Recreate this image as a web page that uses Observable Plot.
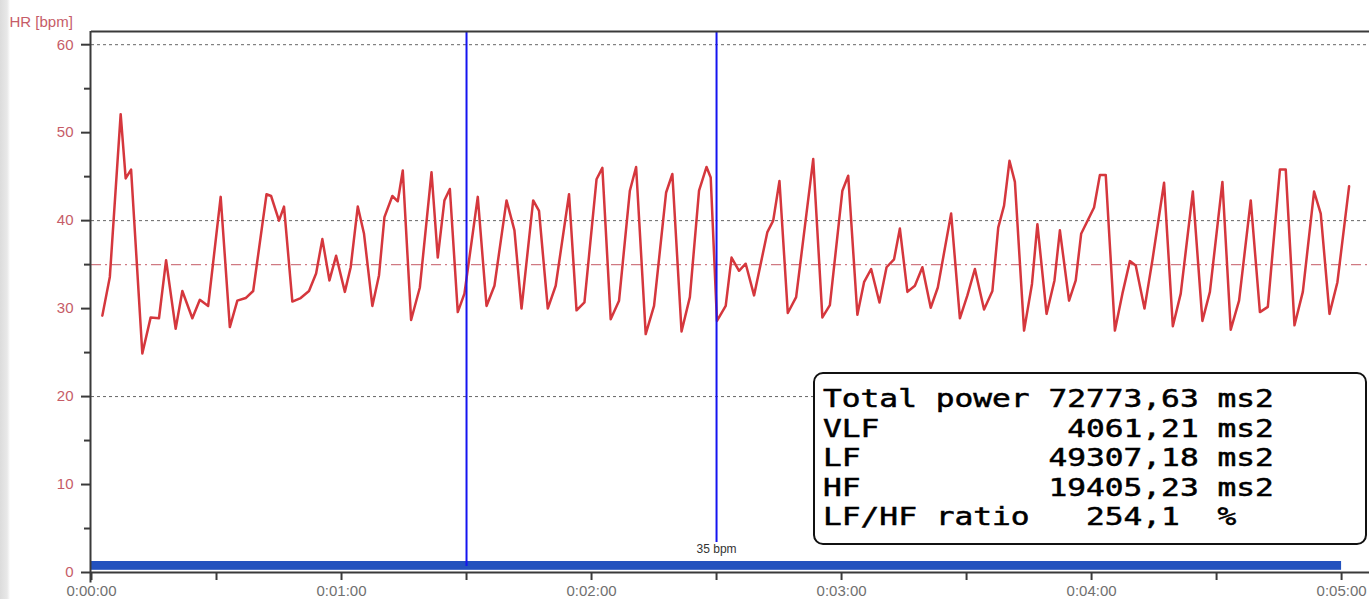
<!DOCTYPE html>
<html>
<head>
<meta charset="utf-8">
<script src="https://cdn.jsdelivr.net/npm/d3@7"></script>
<script src="https://cdn.jsdelivr.net/npm/@observablehq/plot@0.6"></script>
<style>
  html, body { margin: 0; padding: 0; background: #fff; }
  #wrap { position: relative; width: 1369px; height: 599px; overflow: hidden; }
  #edge { position: absolute; left: 0; top: 0; width: 10px; height: 599px;
          background: linear-gradient(to right, #dcdcdc 0, #e8e8e8 7px, #f6f6f6 9px, #fff 10px); }
  #chart { position: absolute; left: 0; top: 0; }
  #stats { position: absolute; left: 813px; top: 372px; width: 554px; height: 173px;
           box-sizing: border-box; border: 2px solid #111; border-radius: 10px; background: #fff;
           padding: 11px 0 0 8px; }
  #stats div { white-space: pre; font-family: "DejaVu Sans Mono", monospace; font-size: 24px;
               line-height: 29.5px; color: #000; -webkit-text-stroke: 0.5px #000;
               transform: scaleX(1.3); transform-origin: left center; }
</style>
</head>
<body>
<div id="wrap">
  <div id="edge"></div>
  <div id="chart"></div>
  <div id="stats"></div>
</div>
<script>
// Beat-to-beat heart rate: time since start (s) and rate (bpm)
const times = [
  2.6, 4.4, 7.0, 8.2, 9.5, 12.2, 14.2, 16.2, 17.9, 20.2, 21.8, 24.2, 26.0, 28.0, 31.0, 33.2, 35.0, 37.0, 38.8,
  42.0, 43.1, 45.0, 46.2, 48.2, 50.2, 52.2, 53.9, 55.4, 57.1, 58.7, 60.8, 62.2, 63.9, 65.4, 67.4, 69.0, 70.3,
  72.2, 73.5, 74.7, 76.7, 78.8, 81.6, 83.1, 84.7, 86.0, 87.9, 89.5, 92.7, 94.8, 96.7, 99.6, 101.5, 103.2,
  106.0, 107.4, 109.5, 111.4, 114.6, 116.4, 118.3, 121.2, 122.6, 124.6, 126.6, 129.2, 130.7, 133.0, 135.0,
  137.9, 139.4, 141.6, 143.6, 145.8, 147.6, 148.6, 150.1, 152.2, 153.6, 155.4, 157.0, 159.0, 162.2, 163.6,
  165.1, 167.1, 169.1, 173.2, 175.4, 177.2, 180.2, 181.6, 183.8, 185.4, 187.1, 189.1, 190.8, 192.6, 194.0,
  195.8, 197.6, 199.4, 201.4, 203.1, 206.3, 208.4, 210.2, 212.0, 214.2, 216.2, 217.6, 219.0, 220.3, 221.6,
  223.8, 225.7, 227.0, 229.2, 231.1, 232.4, 234.6, 236.2, 237.5, 240.6, 242.0, 243.4, 245.6, 247.4, 249.2,
  250.6, 252.7, 254.6, 257.4, 259.5, 261.4, 264.3, 266.6, 268.4, 271.4, 273.4, 275.4, 278.2, 280.4, 282.3,
  285.2, 286.6, 288.7, 290.7, 293.4, 295.0, 297.1, 299.0, 301.8
];
const heartRate = [
  29.2, 33.6, 52.1, 44.8, 45.8, 24.9, 29.0, 28.9, 35.5, 27.7, 32.0, 28.9, 31.0, 30.3, 42.7, 27.9, 30.9, 31.2, 32.0,
  43.0, 42.8, 40.0, 41.6, 30.8, 31.2, 32.0, 34.0, 37.9, 33.2, 36.0, 31.9, 34.7, 41.6, 38.5, 30.3, 33.8, 40.4,
  42.8, 42.2, 45.7, 28.7, 32.4, 45.5, 35.8, 42.3, 43.6, 29.6, 31.7, 42.7, 30.3, 32.6, 42.3, 38.9, 30.0,
  42.3, 41.1, 30.0, 32.6, 43.0, 29.8, 30.7, 44.7, 46.0, 28.8, 30.9, 43.4, 46.1, 27.1, 30.3,
  43.2, 45.3, 27.4, 31.3, 43.4, 46.1, 44.9, 28.6, 30.3, 35.8, 34.3, 35.1, 31.5, 38.7, 40.0,
  44.5, 29.5, 31.3, 47.0, 29.0, 30.4, 43.4, 45.1, 29.3, 33.0, 34.5, 30.7, 34.7, 35.6, 39.1,
  31.9, 32.6, 34.7, 30.1, 32.4, 40.8, 28.9, 31.5, 34.5, 29.9, 32.0, 39.2, 41.7, 46.8, 44.4,
  27.5, 32.8, 39.6, 29.4, 33.2, 38.9, 30.9, 33.2, 38.5, 41.5, 45.2, 45.2, 27.5, 31.7, 35.4,
  34.9, 30.0, 35.5, 44.3, 28.0, 31.7, 43.3, 28.6, 31.9, 44.4, 27.6, 30.9, 42.3, 29.6, 30.2,
  45.8, 45.8, 28.1, 31.9, 43.3, 40.8, 29.4, 33.0, 43.9
];
const beats = times.map((t, i) => ({t, hr: heartRate[i]}));

// Mean heart rate, analysis window and the two cursor times (s)
const meanHR = 35;
const windowRange = [0, 300];
const cursors = [90, 150];

// Axis ticks
const yMajor = [0, 10, 20, 30, 40, 50, 60];
const yMinor = [5, 15, 25, 35, 45, 55];
const yGrid = [20, 40, 60];
const xTicks = d3.range(0, 301, 30);
const xMax = 306.7;
const yMax = 61.5;

// Spectral summary
const statLabels = ["Total power", "VLF", "LF", "HF", "LF/HF ratio"];
const statValues = ["72773,63", "4061,21", "49307,18", "19405,23", "254,1"];
const statUnits = ["ms2", "ms2", "ms2", "ms2", "%"];

const clock = s => `0:${String(Math.floor(s / 60)).padStart(2, "0")}:${String(s % 60).padStart(2, "0")}`;

const axisInk = "#3a3a3a";
const hrInk = "#c65c68";

const chart = Plot.plot({
  width: 1369,
  height: 599,
  marginLeft: 91,
  marginRight: 0,
  marginTop: 31,
  marginBottom: 27,
  x: {domain: [0, xMax]},
  y: {domain: [0, yMax]},
  style: {fontFamily: "'Liberation Sans', Arial, sans-serif", fontSize: "15px", background: "transparent", overflow: "visible"},
  marks: [
    Plot.ruleY(yGrid, {stroke: "#666", strokeWidth: 1, strokeDasharray: "3,3"}),
    Plot.ruleY([meanHR], {stroke: "#cf7a82", strokeWidth: 1.2, strokeDasharray: "10,4,2,4"}),
    Plot.rect([windowRange], {x1: d => d[0], x2: d => d[1], y1: 0.25, y2: 1.25, fill: "#2352be"}),
    Plot.line(beats, {x: "t", y: "hr", stroke: "#d5373d", strokeWidth: 2.5, strokeLinejoin: "round"}),
    Plot.ruleX([cursors[0]], {stroke: "#1414f0", strokeWidth: 2, insetBottom: 6}),
    Plot.ruleX([cursors[1]], {stroke: "#1414f0", strokeWidth: 2, insetBottom: 30}),
    Plot.text([cursors[1]], {x: d => d, frameAnchor: "bottom", dy: -20, text: () => `${meanHR} bpm`,
      fill: "#333", fontSize: 12}),
    Plot.axisY(yMajor, {tickSize: 10, tickPadding: 8, stroke: axisInk, strokeWidth: 2, fill: hrInk,
      tickFormat: d => String(d), label: null}),
    Plot.axisY(yMinor, {tickSize: 7, stroke: axisInk, strokeWidth: 2, tickFormat: () => "", label: null}),
    Plot.axisX(xTicks, {tickSize: 8, tickPadding: 5, stroke: axisInk, strokeWidth: 2, fill: "#707070",
      tickFormat: d => (d % 60 === 0 ? clock(d) : ""), label: null}),
    Plot.ruleY([0], {stroke: axisInk, strokeWidth: 2}),
    Plot.ruleY([yMax], {stroke: axisInk, strokeWidth: 2}),
    Plot.ruleX([0], {y1: -1.2, y2: yMax, stroke: axisInk, strokeWidth: 2, dx: -1}),
    Plot.text(["HR [bpm]"], {frameAnchor: "top-left", dx: -82, dy: -15, textAnchor: "start",
      text: d => d, fill: hrInk, fontSize: 15})
  ]
});
document.getElementById("chart").appendChild(chart);

// Summary panel: values aligned on their decimal comma, units in one column
const commaCol = 17, unitCol = 21;
const panel = document.getElementById("stats");
statLabels.forEach((label, i) => {
  const v = statValues[i];
  const start = commaCol - v.indexOf(",");
  let line = label.padEnd(start, " ") + v;
  line = line.padEnd(unitCol, " ") + statUnits[i];
  const row = document.createElement("div");
  row.textContent = line;
  panel.appendChild(row);
});
</script>
</body>
</html>
